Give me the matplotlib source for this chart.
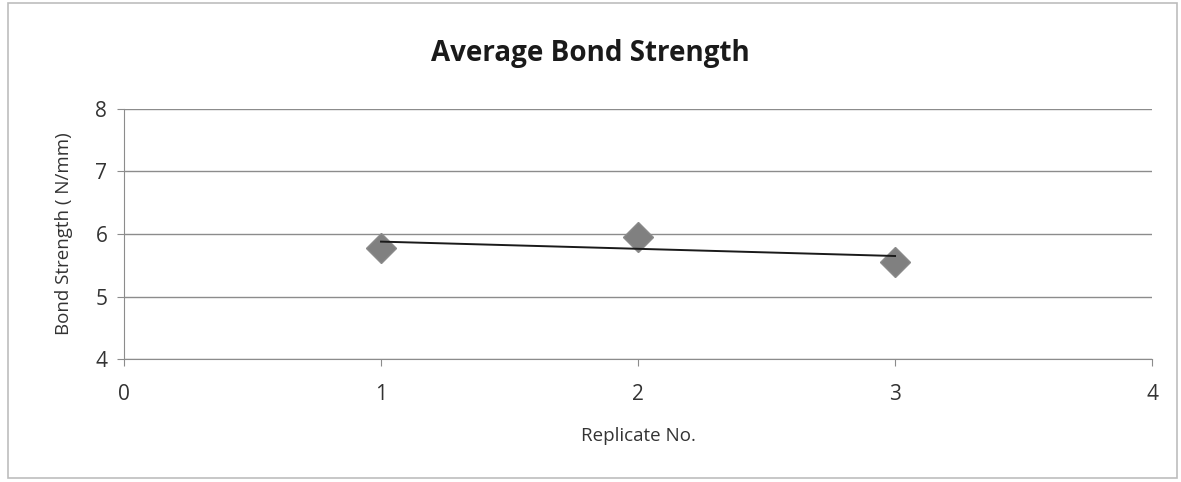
import matplotlib.pyplot as plt
import numpy as np
from matplotlib.patches import Rectangle

plt.rcParams['font.family'] = ['Open Sans', 'DejaVu Sans']

replicate = [1, 2, 3]
strength = [5.78, 5.96, 5.55]

fig = plt.figure(figsize=(11.81, 4.82), dpi=100)
ax = fig.add_axes([0.105, 0.255, 0.8705, 0.519])

# outer chart border
fig.patches.append(Rectangle((0.007, 0.008), 0.990, 0.985, transform=fig.transFigure,
                             fill=False, edgecolor='#bdbdbd', linewidth=1.2))

ax.plot(replicate, strength, linestyle='none', marker='D', markersize=15,
        color='#808080', markeredgecolor='#8a8a8a', zorder=3)

# linear trendline
k, b = np.polyfit(replicate, strength, 1)
xs = np.array([replicate[0], replicate[-1]])
ax.plot(xs, k * xs + b, color='#1a1a1a', linewidth=1.4, zorder=4)

ax.set_xlim(0, 4)
ax.set_ylim(4, 8)
ax.set_xticks([0, 1, 2, 3, 4])
ax.set_yticks([4, 5, 6, 7, 8])

ax.grid(axis='y', color='#8c8c8c', linewidth=1.0)
ax.set_axisbelow(True)
for s in ['top', 'right']:
    ax.spines[s].set_visible(False)
for s in ['left', 'bottom']:
    ax.spines[s].set_color('#8c8c8c')
ax.tick_params(axis='both', colors='#8c8c8c', labelcolor='#333333',
               labelsize=15, length=5)
ax.tick_params(axis='x', pad=13)
ax.tick_params(axis='y', pad=7)

ax.set_xlabel('Replicate No.', fontsize=13.5, color='#333333', labelpad=16)
ax.set_ylabel('Bond Strength ( N/mm)', fontsize=13.5, color='#333333', labelpad=16)
fig.text(0.5, 0.888, 'Average Bond Strength', ha='center', va='center',
         fontsize=20, fontweight='bold', color='#1a1a1a')

fig.savefig('out.png', dpi=100)
